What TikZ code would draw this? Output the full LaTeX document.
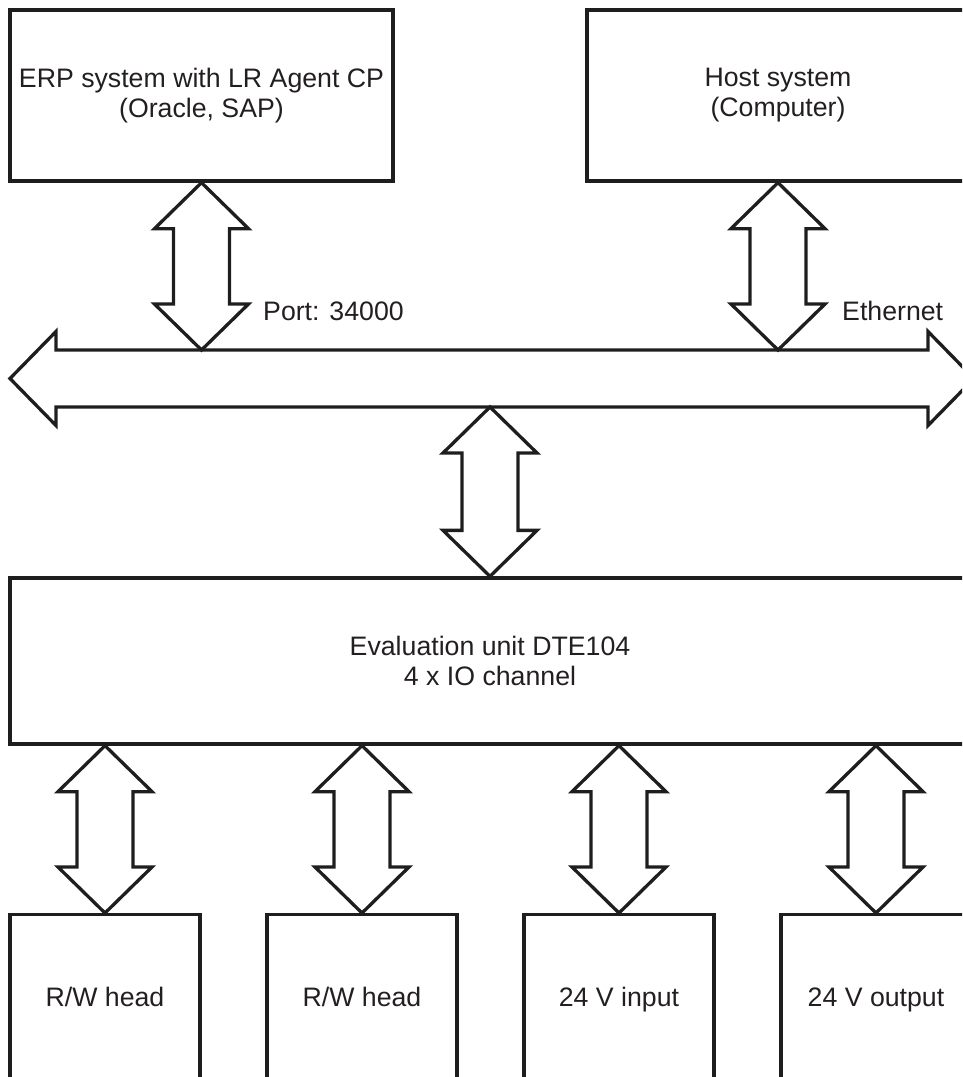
\documentclass[tikz,border=0pt]{standalone}
\usepackage{fontspec}
\setmainfont{Liberation Sans}
\definecolor{ink}{RGB}{30,30,30}
\definecolor{txt}{RGB}{35,31,32}

% vertical block arrow with heads at both ends, from top point #1 to bottom point #2
\newcommand\vfat[2]{%
  \draw[blockarrow] (#1) -- ([shift={(47,46)}]#1) -- ([shift={(28,46)}]#1)
    -- ([shift={(28,-46)}]#2) -- ([shift={(47,-46)}]#2) -- (#2)
    -- ([shift={(-47,-46)}]#2) -- ([shift={(-28,-46)}]#2)
    -- ([shift={(-28,46)}]#1) -- ([shift={(-47,46)}]#1) -- cycle;}

\begin{document}
\begin{tikzpicture}[x=1pt,y=-1pt,
  box/.style={draw=ink, line width=3.3pt, inner sep=0pt, align=center,
    text=txt, font=\fontsize{26.7}{30}\selectfont},
  endbox/.style={box, anchor=north, minimum width=190, minimum height=200,
    text height=19pt, text depth=36pt},
  lbl/.style={inner sep=0pt, text=txt, font=\fontsize{26.7}{30}\selectfont},
  blockarrow/.style={draw=ink, line width=3.3pt, line join=miter}]
\useasboundingbox (0,0) rectangle (962,1077);
\clip (0,0) rectangle (962,1077);

% systems on the network
\node[box, minimum width=383, minimum height=171] (erp) at (201.5,95.5)
  {ERP system with LR Agent CP\\(Oracle, SAP)};
\node[box, minimum width=382, minimum height=171] (host) at (778,95.5)
  {Host system\\(Computer)};

% evaluation unit
\node[box, minimum width=960, minimum height=166] (eval) at (490,661)
  {Evaluation unit DTE104\\4 x IO channel};

% devices on the IO channels
\node[endbox] (rw1) at (105,913) {R/W head};
\node[endbox] (rw2) at (362,913) {R/W head};
\node[endbox] (vin) at (619,913) {24 V input};
\node[endbox] (vout) at (876,913) {24 V output};

% network bus
\coordinate (busL) at (10,378.5);
\coordinate (busR) at (974,378.5);
\coordinate (bustop) at (0,350);
\coordinate (busbot) at (0,407);
\draw[blockarrow] (busL) -- ([shift={(46,-47)}]busL) -- ([shift={(46,-28.5)}]busL)
  -- ([shift={(-46,-28.5)}]busR) -- ([shift={(-46,-47)}]busR) -- (busR)
  -- ([shift={(-46,47)}]busR) -- ([shift={(-46,28.5)}]busR)
  -- ([shift={(46,28.5)}]busL) -- ([shift={(46,47)}]busL) -- cycle;

% connection points
\coordinate (erpbus) at (erp.south |- bustop);
\coordinate (hostbus) at (host.south |- bustop);
\coordinate (evalbus) at (eval.north |- busbot);
\coordinate (rw1top) at (rw1.north |- eval.south);
\coordinate (rw2top) at (rw2.north |- eval.south);
\coordinate (vintop) at (vin.north |- eval.south);
\coordinate (vouttop) at (vout.north |- eval.south);

% block connectors
\vfat{erp.south}{erpbus}
\vfat{host.south}{hostbus}
\vfat{evalbus}{eval.north}
\vfat{rw1top}{rw1.north}
\vfat{rw2top}{rw2.north}
\vfat{vintop}{vin.north}
\vfat{vouttop}{vout.north}

% link labels
\node[lbl, anchor=base west] (port) at (263,320) {Port: 34000};
\node[lbl, anchor=base west] (eth) at (842,320) {Ethernet};
\end{tikzpicture}
\end{document}
